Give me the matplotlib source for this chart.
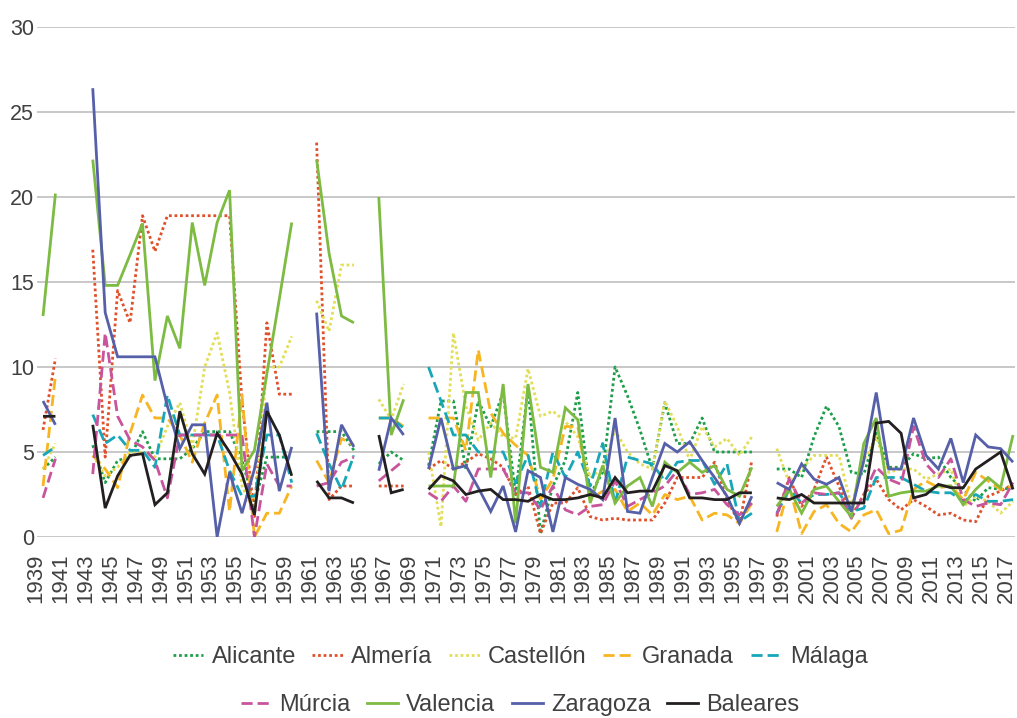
import numpy as np
import matplotlib
matplotlib.use("Agg")
import matplotlib.pyplot as plt
import matplotlib.transforms as mtransforms
from matplotlib import font_manager
from matplotlib.lines import Line2D

N = None
years = list(range(1939, 2018))

# values per year 1939..2017 (None = no data)
alicante = [4.0, 4.7, N, N,
            5.4, 3.2, 4.5, 4.7, 6.2, 4.6, 4.6, 4.6, 5.2, 6.2, 6.2, 6.2, 4.5, 2.0, 4.7, 4.7, 4.7, N,
            6.2, 6.2, 6.2, 5.1, N, 4.3, 5.0, 4.5, N,
            4.2, 8.0, 8.0, 4.0, 8.0, 6.5, 8.5, 2.5, 8.8, 0.2, 3.0, 4.5, 8.5, 2.5, 3.8, 10.0, 8.3, 6.3,
            4.0, 7.9, 5.5, 5.5, 7.0, 5.0, 5.0, 5.0, 5.0, N,
            4.0, 4.0, 3.5, 5.9, 7.7, 6.5, 3.8, 3.7, 6.1, 4.1, 4.1, 4.9, 4.6, 4.7, 3.5, 2.8, 2.1, 2.9, 2.8, 2.9]
almeria = [6.3, 10.5, N, N,
           16.9, 4.7, 14.5, 12.6, 18.9, 16.8, 18.9, 18.9, 18.9, 18.9, 18.9, 18.9, 8.0, 1.2, 12.6, 8.4, 8.4, N,
           23.2, 2.2, 3.0, 3.0, N, 3.0, 3.0, 3.0, N,
           4.0, 4.5, 4.0, 4.4, 4.9, 4.6, 4.1, 2.5, 3.0, 0.2, 2.0, 2.0, 2.9, 1.2, 1.0, 1.1, 1.0, 1.0,
           1.0, 2.0, 3.5, 3.5, 3.5, 4.4, 2.2, 0.8, 4.5, N,
           1.2, 3.5, 1.8, 2.8, 4.7, 3.0, 1.2, 2.5, 3.4, 2.2, 1.6, 2.2, 1.8, 1.3, 1.4, 1.0, 0.9, 2.4, 2.7, 3.1]
castellon = [4.0, 5.5, N, N,
             4.8, 3.6, 4.1, 5.0, 5.0, 4.7, 6.5, 7.9, 5.3, 10.0, 12.0, 8.5, 3.0, 1.4, 10.0, 10.0, 11.8, N,
             13.9, 12.1, 16.0, 16.0, N, 8.1, 6.9, 9.0, N,
             5.0, 0.6, 12.0, 7.7, 5.7, 6.7, 5.9, 5.8, 9.9, 7.1, 7.4, 6.8, 5.9, 3.5, 4.0, 6.3, 5.0, 4.3,
             4.0, 8.0, 6.5, 4.5, 6.5, 5.3, 5.8, 4.8, 5.9, N,
             5.2, 3.2, 4.0, 4.8, 4.8, 4.8, 1.8, 4.5, 5.9, 3.8, 4.0, 4.0, 3.4, 3.7, 4.0, 1.8, 2.4, 2.1, 1.4, 2.1]
granada = [3.0, 9.5, N, N,
           4.8, 4.0, 2.9, 6.1, 8.35, 7.0, 7.0, 6.0, 4.4, 6.7, 8.35, 1.5, 8.35, 0.0, 1.4, 1.4, 3.0, N,
           4.5, 3.2, 5.8, 5.4, N, 7.0, 7.0, 6.5, N,
           7.0, 7.0, 7.0, 5.1, 11.0, 7.3, 6.1, 5.4, 4.8, 2.2, 3.4, 6.5, 6.5, 2.2, 2.7, 2.8, 1.5, 2.0,
           1.3, 2.5, 2.2, 2.4, 1.0, 1.4, 1.3, 0.8, 2.0, N,
           0.3, 3.0, 0.2, 1.5, 1.9, 0.8, 0.3, 1.3, 1.6, 0.2, 0.4, 2.8, 3.3, 2.9, 3.0, 2.2, 3.8, 3.3, 2.8, 3.0]
malaga = [4.8, 5.3, N, N,
          7.2, 5.5, 6.0, 5.1, 5.1, 4.1, 8.35, 6.0, 6.0, 6.0, 6.0, 3.9, 2.4, 2.4, 6.0, 6.0, 3.2, N,
          6.1, 4.3, 2.8, 4.8, N, 7.0, 7.0, 6.4, N,
          10.0, 8.0, 6.0, 6.0, 5.0, 5.0, 5.0, 3.2, 4.8, 1.8, 5.0, 3.5, 5.0, 3.0, 5.5, 2.0, 4.7, 4.5,
          4.3, 3.3, 4.4, 4.5, 4.5, 3.1, 4.3, 0.9, 1.4, N,
          1.4, 2.8, 2.0, 2.5, 2.5, 2.6, 1.5, 1.7, 3.5, 3.5, 3.5, 3.1, 2.7, 2.6, 2.6, 2.1, 2.5, 2.1, 2.1, 2.2]
murcia = [2.3, 4.6, N, N,
          3.7, 12.0, 7.1, 5.7, 5.3, 4.5, 2.3, 6.0, 6.0, 6.0, 6.0, 6.0, 6.0, 0.0, 4.3, 3.0, 3.0, N,
          3.0, 3.2, 4.4, 4.7, N, 3.3, 3.9, 4.5, N,
          2.6, 2.1, 3.0, 2.1, 4.0, 4.0, 4.0, 2.6, 2.6, 1.6, 3.0, 1.6, 1.3, 1.8, 1.9, 3.3, 1.8, 2.2,
          2.6, 3.0, 3.9, 2.5, 2.6, 2.8, 1.9, 1.3, 2.0, N,
          1.3, 3.4, 2.0, 2.6, 2.5, 2.6, 1.1, 2.5, 4.1, 3.4, 3.1, 6.5, 4.3, 3.5, 4.6, 2.2, 1.8, 2.0, 1.9, 3.2]
valencia = [13.0, 20.2, N, N,
            22.2, 14.8, 14.8, 16.6, 18.45, 9.2, 13.0, 11.1, 18.5, 14.8, 18.5, 20.4, 3.9, 5.1, 9.6, 14.0, 18.5, N,
            22.2, 16.7, 13.0, 12.6, N, 20.0, 6.0, 8.1, N,
            3.0, 3.0, 3.0, 8.5, 8.5, 3.5, 9.0, 0.8, 9.0, 4.1, 3.8, 7.6, 6.9, 2.0, 4.2, 2.0, 3.0, 3.5,
            1.8, 4.4, 3.8, 4.4, 3.8, 4.2, 2.8, 2.4, 4.1, N,
            1.8, 2.8, 1.4, 2.8, 3.0, 2.1, 1.2, 5.5, 7.0, 2.4, 2.6, 2.7, 2.7, 3.0, 3.0, 1.9, 2.8, 3.5, 2.9, 6.0]
zaragoza = [8.0, 6.6, N, N,
            26.4, 13.2, 10.6, 10.6, 10.6, 10.6, 7.7, 5.2, 6.6, 6.6, 0.0, 3.8, 1.4, 4.0, 7.9, 2.7, 5.3, N,
            13.2, 2.7, 6.6, 5.3, N, 3.9, 7.0, 6.0, N,
            4.0, 7.0, 4.0, 4.2, 2.9, 1.5, 3.0, 0.3, 3.9, 3.5, 0.3, 3.5, 3.1, 2.8, 2.2, 7.0, 1.5, 1.4,
            3.5, 5.5, 5.0, 5.6, 4.5, 3.5, 2.4, 0.8, 2.4, N,
            3.2, 2.8, 4.3, 3.4, 3.1, 3.5, 1.5, 4.5, 8.5, 4.0, 4.0, 7.0, 4.8, 4.0, 5.8, 3.2, 6.0, 5.3, 5.2, 4.4]
baleares = [7.1, 7.1, N, N,
            6.6, 1.7, 3.6, 4.8, 4.9, 1.9, 2.6, 7.4, 4.9, 3.7, 6.1, 5.0, 3.7, 1.3, 7.4, 6.0, 3.6, N,
            3.3, 2.3, 2.3, 2.0, N, 6.0, 2.6, 2.8, N,
            2.8, 3.6, 3.3, 2.5, 2.7, 2.8, 2.2, 2.2, 2.1, 2.5, 2.2, 2.2, 2.3, 2.5, 2.3, 3.5, 2.6, 2.7,
            2.7, 4.2, 3.9, 2.3, 2.3, 2.2, 2.2, 2.6, 2.6, N,
            2.3, 2.2, 2.5, 2.0, 2.0, 2.0, 2.0, 2.0, 6.7, 6.8, 6.1, 2.3, 2.5, 3.1, 2.9, 2.9, 4.0, 4.5, 5.0, 2.8]

names = ["Alicante", "Almería", "Castellón", "Granada", "Málaga",
         "Múrcia", "Valencia", "Zaragoza", "Baleares"]
series = [alicante, almeria, castellon, granada, malaga, murcia, valencia, zaragoza, baleares]
colors = ["#1E9E4A", "#E0502A", "#E2DE58", "#F7B522", "#17A7B8",
          "#C8549B", "#7DBB42", "#5560A8", "#231F20"]
dot = (0, (1.0, 1.0))
dash = (0, (4.0, 1.8))
styles = [dot, dot, dot, dash, dash, dash, "-", "-", "-"]

avail = {f.name for f in font_manager.fontManager.ttflist}
base_font = "Liberation Sans" if "Liberation Sans" in avail else "DejaVu Sans"
plt.rcParams["font.family"] = [base_font, "DejaVu Sans"]

W, H = 1017, 718
fig = plt.figure(figsize=(W / 100, H / 100), dpi=100)
ax = fig.add_axes([36.8 / W, 1 - 537 / H, 978.1 / W, 510 / H])

x = np.arange(len(years))
for vals, c, ls in zip(series, colors, styles):
    y = np.array([np.nan if v is None else v for v in vals], dtype=float)
    ax.plot(x, y, color=c, linestyle=ls, linewidth=2.0,
            dash_capstyle="butt", solid_capstyle="butt", solid_joinstyle="miter")

ax.set_xlim(-0.5, 78.15)
ax.set_ylim(0, 30)
ax.set_yticks(range(0, 31, 5))
ax.set_xticks(x[::2])
ax.set_xticklabels([str(yv) for yv in years[::2]], rotation=90)
ax.yaxis.grid(True, color="#BFBFBF", linewidth=1.2)
ax.set_axisbelow(True)
for s in ax.spines.values():
    s.set_visible(False)
ax.tick_params(axis="x", length=0, labelsize=16, colors="#404040", pad=12)
ax.tick_params(axis="y", length=0, labelsize=15.5, colors="#404040", pad=2)

shift = mtransforms.ScaledTranslation(-7 / 100, 0, fig.dpi_scale_trans)
for lab in ax.get_xticklabels():
    lab.set_transform(lab.get_transform() + shift)

handles = [Line2D([0], [0], color=c, linestyle=ls, linewidth=2.0) for c, ls in zip(colors, styles)]
leg_kw = dict(frameon=False, handlelength=1.3, handletextpad=0.35, columnspacing=0.7,
              prop={"family": base_font, "size": 17}, labelcolor="#404040")
fig.legend(handles[:5], names[:5], ncol=5, loc="center",
           bbox_to_anchor=(520 / W, 1 - 657 / H), **leg_kw)
fig.legend(handles[5:], names[5:], ncol=4, loc="center",
           bbox_to_anchor=(520 / W, 1 - 705 / H), **leg_kw)

fig.savefig("out.png", dpi=100)
